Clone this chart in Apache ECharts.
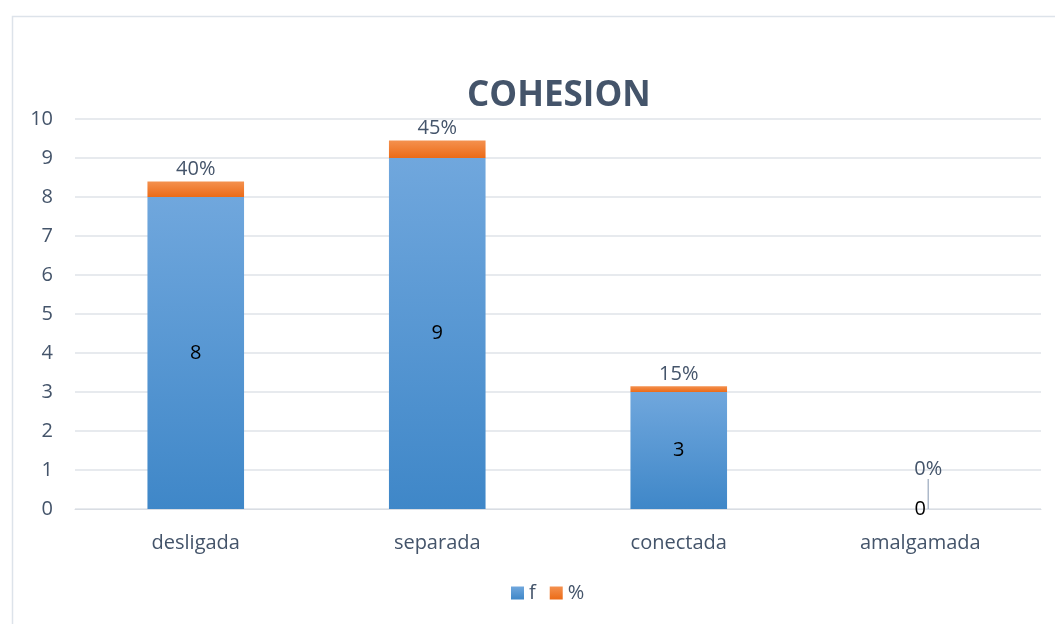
<!DOCTYPE html>
<html>
<head>
<meta charset="utf-8">
<script src="https://cdn.jsdelivr.net/npm/echarts@6/dist/echarts.min.js"></script>
<style>
    html, body { margin: 0; padding: 0; background: #fff; }
    #chart-cohesion { width: 1055px; height: 624px; }
</style>
</head>
<body>
<div id="chart-cohesion"></div>
<script>
const categories = ['desligada', 'separada', 'conectada', 'amalgamada'];
const fValues = [8, 9, 3, 0];
const pctValues = [0.4, 0.45, 0.15, 0];
const pctLabels = ['40%', '45%', '15%', '0%'];
const yTicks = [0, 1, 2, 3, 4, 5, 6, 7, 8, 9, 10];

const textColor = '#44546a';
const fontName = "'Open Sans', 'Noto Sans', sans-serif";

var chart = echarts.init(document.getElementById('chart-cohesion'));

// only the empty bar gets a leader line
const pctData = pctValues.map(function (v, i) {
    return v === 0 ? { value: v, labelLine: { show: true } } : v;
});

chart.setOption({
    animation: false,
    graphic: [{
        type: 'rect',
        left: 10, top: 14,
        shape: { width: 1060, height: 620 },
        style: { fill: 'none', stroke: '#dde3ea', lineWidth: 1.5 },
        silent: true
    }],
    title: {
        text: 'COHESION',
        left: 462,
        top: 74,
        textStyle: {
            fontFamily: fontName,
            fontWeight: 'bold',
            fontSize: 35,
            color: textColor
        }
    },
    legend: {
        bottom: 16,
        left: 506,
        itemWidth: 13,
        itemHeight: 13,
        itemGap: 14,
        icon: 'rect',
        textStyle: { fontFamily: fontName, fontSize: 20, color: textColor },
        data: ['f', '%']
    },
    grid: { left: 75, right: 14, top: 119, bottom: 115 },
    xAxis: {
        type: 'category',
        data: categories,
        axisLine: { lineStyle: { color: '#d9dde3' } },
        axisTick: { show: false },
        axisLabel: { fontFamily: fontName, fontSize: 20, color: textColor, margin: 24 }
    },
    yAxis: {
        type: 'value',
        min: yTicks[0],
        max: yTicks[yTicks.length - 1],
        interval: 1,
        axisLine: { show: false },
        axisTick: { show: false },
        splitLine: { lineStyle: { color: '#dfe3e8', width: 1.5 } },
        axisLabel: { fontFamily: fontName, fontSize: 20, color: textColor, margin: 22 }
    },
    series: [
        {
            name: 'f',
            type: 'bar',
            stack: 'total',
            barWidth: '40%',
            data: fValues,
            itemStyle: {
                color: new echarts.graphic.LinearGradient(0, 0, 0, 1, [
                    { offset: 0, color: '#70a7dd' },
                    { offset: 1, color: '#3f87c8' }
                ])
            },
            label: {
                show: true,
                position: 'inside',
                fontFamily: fontName,
                fontSize: 20,
                color: '#000'
            }
        },
        {
            name: '%',
            type: 'bar',
            stack: 'total',
            barWidth: '40%',
            data: pctData,
            itemStyle: {
                color: new echarts.graphic.LinearGradient(0, 0, 0, 1, [
                    { offset: 0, color: '#f4914f' },
                    { offset: 1, color: '#ec6b17' }
                ])
            },
            label: {
                show: true,
                position: 'top',
                distance: 2,
                fontFamily: fontName,
                fontSize: 20,
                color: textColor,
                formatter: function (p) { return pctLabels[p.dataIndex]; }
            },
            labelLine: { show: false, lineStyle: { color: '#adb9ca', width: 1.5 } },
            labelLayout: function (params) {
                if (params.dataIndex === 3) return { dx: 8, dy: -28 };
            }
        }
    ]
});
</script>
</body>
</html>
